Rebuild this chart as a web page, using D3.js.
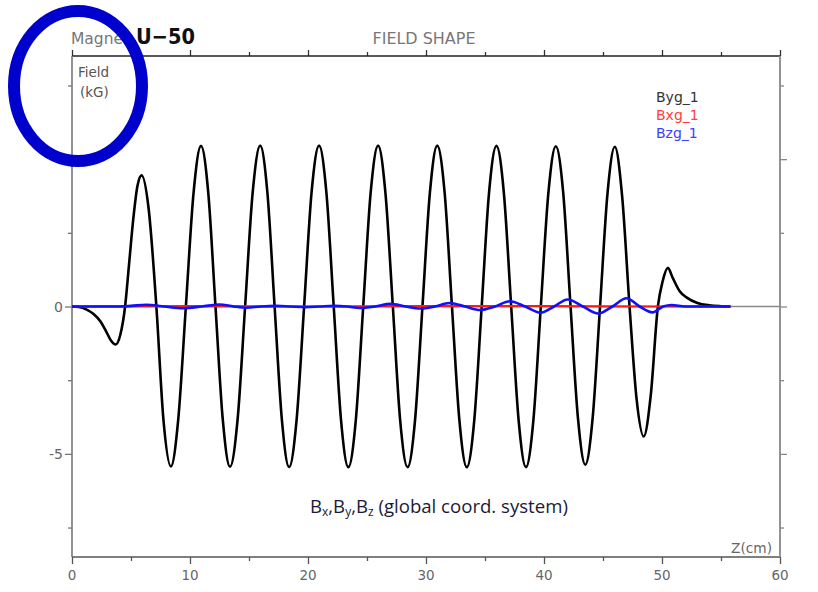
<!DOCTYPE html>
<html>
<head>
<meta charset="utf-8">
<script src="https://cdn.jsdelivr.net/npm/d3@7"></script>
<style>
  html, body { margin: 0; padding: 0; background: #fff; }
  svg { display: block; }
</style>
</head>
<body>
<svg id="chart" width="818" height="592"></svg>
<script>
// ---------------- DATA ----------------
const xMajorTicks = [0, 10, 20, 30, 40, 50, 60];
const xMinorTicks = [5, 15, 25, 35, 45, 55];
const yMajorTicks = [-5, 0, 5];
const yMinorTicks = [-7.5, -2.5, 2.5, 7.5];
const yLabelTicks = [-5, 0];

const seriesNames = ["Byg_1", "Bxg_1", "Bzg_1"];

// Byg_1 (kG) vs Z (cm)
const bygZ = [0, 0.6, 1.2, 1.8, 2.4, 2.9, 3.3, 3.7, 4.1, 4.5, 4.85, 5.2, 5.55, 5.9, 6.5, 7.15, 7.75, 8.38,
  9.0, 9.65, 10.3, 10.93, 11.55, 12.16, 12.78, 13.39, 14.03, 14.67, 15.31, 15.95, 16.56, 17.17, 17.79, 18.40,
  19.03, 19.67, 20.3, 20.94, 21.56, 22.18, 22.8, 23.42, 24.05, 24.68, 25.31, 25.94, 26.56, 27.19, 27.81, 28.44,
  29.07, 29.70, 30.33, 30.95, 31.58, 32.2, 32.83, 33.46, 34.09, 34.72, 35.34, 35.97, 36.6, 37.22, 37.85, 38.47,
  39.1, 39.73, 40.37, 41.0, 41.63, 42.25, 42.88, 43.5, 44.12, 44.75, 45.38, 46.0, 46.63, 47.25, 47.85, 48.45,
  49.05, 49.65, 50.05, 50.5, 50.9, 51.5, 52.1, 53.0, 54.0, 55.0, 55.8];
const bygB = [0, -0.02, -0.1, -0.25, -0.5, -0.85, -1.15, -1.29, -0.95, 0, 1.5, 3.0, 4.1, 4.45, 3.3, 0, -3.85, -5.43,
  -3.85, 0, 3.85, 5.45, 3.85, 0, -3.85, -5.44, -3.85, 0, 3.86, 5.46, 3.86, 0, -3.86, -5.45,
  -3.86, 0, 3.86, 5.46, 3.86, 0, -3.86, -5.45, -3.86, 0, 3.86, 5.46, 3.86, 0, -3.86, -5.45,
  -3.86, 0, 3.86, 5.46, 3.86, 0, -3.86, -5.45, -3.86, 0, 3.85, 5.45, 3.85, 0, -3.86, -5.45,
  -3.86, 0, 3.85, 5.44, 3.85, 0, -3.8, -5.37, -3.8, 0, 3.83, 5.42, 3.7, 0, -3.15, -4.41,
  -3.0, 0, 0.85, 1.31, 0.98, 0.52, 0.3, 0.12, 0.04, 0.01, 0];

// Bxg_1 (kG)
const bxgZ = [0, 10, 20, 30, 40, 50, 55.8];
const bxgB = [0, 0.01, 0, 0.01, 0.01, 0, 0];

// Bzg_1 (kG)
const bzgZ = [0, 4, 5.0, 6.3, 7.8, 9.4, 11.0, 12.5, 13.7, 14.8, 16.0, 17.3, 18.5, 19.8, 21.0, 22.2, 23.3, 24.4,
  25.7, 27.0, 28.25, 29.5, 30.75, 32.0, 33.3, 34.6, 35.85, 37.1, 38.4, 39.7, 40.85, 42.0, 43.3, 44.6, 45.8,
  47.0, 48.1, 49.2, 50.1, 50.8, 52.0, 55.8];
const bzgB = [0, 0, 0.02, 0.06, 0, -0.06, 0, 0.07, 0, -0.04, 0, 0.02, 0, -0.02, 0, 0.02, 0, -0.05,
  0, 0.09, 0, -0.07, 0, 0.12, 0, -0.12, 0, 0.18, 0, -0.21, 0, 0.24, 0, -0.24, 0,
  0.28, 0, -0.2, 0, 0.05, 0, 0];

// ---------------- CHART ----------------
const svg = d3.select("#chart");
const L = 72, R = 780, T = 56, B = 557;
const x = d3.scaleLinear().domain([0, 60]).range([L, R]);
const y = d3.scaleLinear().domain([-8.5, 8.5]).range([B, T]);

const grayFont = "'DejaVu Sans', sans-serif";

// zero line
svg.append("line")
  .attr("x1", x(0)).attr("x2", x(60)).attr("y1", y(0)).attr("y2", y(0))
  .attr("stroke", "#8a8a8a").attr("stroke-width", 1.5);

function styleAxis(g, color) {
  g.select(".domain").remove();
  g.selectAll(".tick line").attr("stroke", color).attr("stroke-width", 1.3);
  g.selectAll(".tick text").remove();
}

// bottom axis
const gB = svg.append("g").attr("transform", `translate(0,${B})`);
gB.append("g").call(d3.axisBottom(x).tickValues(xMajorTicks).tickSize(7)).call(g => styleAxis(g, "#555"));
gB.append("g").call(d3.axisBottom(x).tickValues(xMinorTicks).tickSize(4)).call(g => styleAxis(g, "#555"));
// top axis
const gT = svg.append("g").attr("transform", `translate(0,${T})`);
gT.append("g").call(d3.axisTop(x).tickValues(xMajorTicks).tickSize(6)).call(g => styleAxis(g, "#333"));
gT.append("g").call(d3.axisTop(x).tickValues(xMinorTicks).tickSize(4)).call(g => styleAxis(g, "#333"));
// left axis
const gL = svg.append("g").attr("transform", `translate(${L},0)`);
gL.append("g").call(d3.axisLeft(y).tickValues(yMajorTicks).tickSize(7)).call(g => styleAxis(g, "#777"));
gL.append("g").call(d3.axisLeft(y).tickValues(yMinorTicks).tickSize(4)).call(g => styleAxis(g, "#777"));
// right axis
const gR = svg.append("g").attr("transform", `translate(${R},0)`);
gR.append("g").call(d3.axisRight(y).tickValues(yMajorTicks).tickSize(7)).call(g => styleAxis(g, "#888"));
gR.append("g").call(d3.axisRight(y).tickValues(yMinorTicks).tickSize(4)).call(g => styleAxis(g, "#888"));

// frame lines
svg.append("line").attr("x1", L).attr("x2", R).attr("y1", T).attr("y2", T).attr("stroke", "#222").attr("stroke-width", 1.4);
svg.append("line").attr("x1", L).attr("x2", R).attr("y1", B).attr("y2", B).attr("stroke", "#555").attr("stroke-width", 1.6);
svg.append("line").attr("x1", L).attr("x2", L).attr("y1", T).attr("y2", B).attr("stroke", "#777").attr("stroke-width", 1.6);
svg.append("line").attr("x1", R).attr("x2", R).attr("y1", T).attr("y2", B).attr("stroke", "#888").attr("stroke-width", 1.8);

// tick labels
svg.append("g").selectAll("text").data(xMajorTicks).join("text")
  .attr("x", d => x(d)).attr("y", 580)
  .attr("text-anchor", "middle")
  .attr("font-family", grayFont).attr("font-size", 13.5).attr("fill", "#666")
  .text(d => d);
svg.append("g").selectAll("text").data(yLabelTicks).join("text")
  .attr("x", 63).attr("y", d => y(d) + 5)
  .attr("text-anchor", "end")
  .attr("font-family", grayFont).attr("font-size", 14).attr("fill", "#666")
  .text(d => d);

// series lines
const line = d3.line().x(d => x(d[0])).y(d => y(d[1])).curve(d3.curveMonotoneX);
const byg = d3.zip(bygZ, bygB);
const bxg = d3.zip(bxgZ, bxgB);
const bzg = d3.zip(bzgZ, bzgB);

svg.append("path").datum(byg).attr("d", line)
  .attr("fill", "none").attr("stroke", "#000").attr("stroke-width", 2.6).attr("stroke-linejoin", "round");
svg.append("path").datum(bxg).attr("d", line)
  .attr("fill", "none").attr("stroke", "#ff1a1a").attr("stroke-width", 2.2);
svg.append("path").datum(bzg).attr("d", line)
  .attr("fill", "none").attr("stroke", "#1010ff").attr("stroke-width", 2.6).attr("stroke-linejoin", "round");

// legend
const legColors = ["#333", "#ff4040", "#4040ff"];
svg.append("g").selectAll("text").data(seriesNames).join("text")
  .attr("x", 656).attr("y", (d, i) => 102 + i * 18)
  .attr("font-family", grayFont).attr("font-size", 14).attr("fill", (d, i) => legColors[i])
  .text(d => d);

// titles
svg.append("text").attr("x", 424).attr("y", 44).attr("text-anchor", "middle")
  .attr("font-family", grayFont).attr("font-size", 16).attr("fill", "#777")
  .attr("textLength", 103).attr("lengthAdjust", "spacingAndGlyphs")
  .text("FIELD SHAPE");

svg.append("text").attr("x", 71).attr("y", 44)
  .attr("font-family", grayFont).attr("font-size", 15.5).attr("fill", "#777")
  .text("Magnet");
svg.append("text").attr("x", 136).attr("y", 44)
  .attr("font-family", "'DejaVu Sans', sans-serif").attr("font-weight", "bold").attr("font-size", 21).attr("fill", "#111")
  .attr("textLength", 59).attr("lengthAdjust", "spacingAndGlyphs")
  .text("U\u221250");

svg.append("text").attr("x", 78).attr("y", 77)
  .attr("font-family", grayFont).attr("font-size", 13.5).attr("fill", "#555")
  .text("Field");
svg.append("text").attr("x", 80).attr("y", 97)
  .attr("font-family", grayFont).attr("font-size", 13.5).attr("fill", "#555")
  .text("(kG)");

svg.append("text").attr("x", 731).attr("y", 553)
  .attr("font-family", grayFont).attr("font-size", 14.5).attr("fill", "#666")
  .attr("textLength", 41).attr("lengthAdjust", "spacingAndGlyphs")
  .text("Z(cm)");

// annotation with subscripts
const ann = svg.append("text").attr("x", 310).attr("y", 513)
  .attr("font-family", "'Open Sans', 'Noto Sans', sans-serif").attr("font-size", 18.6).attr("fill", "#1a1a38");
ann.append("tspan").text("B");
ann.append("tspan").attr("font-size", 12).attr("dy", 3).text("x");
ann.append("tspan").attr("dy", -3).text(",B");
ann.append("tspan").attr("font-size", 12).attr("dy", 3).text("y");
ann.append("tspan").attr("dy", -3).text(",B");
ann.append("tspan").attr("font-size", 12).attr("dy", 3).text("z");
ann.append("tspan").attr("dy", -3).text(" (global coord. system)");

// blue ellipse overlay
svg.append("ellipse").attr("cx", 78).attr("cy", 86).attr("rx", 64).attr("ry", 75)
  .attr("fill", "none").attr("stroke", "#0000cc").attr("stroke-width", 12);
</script>
</body>
</html>
